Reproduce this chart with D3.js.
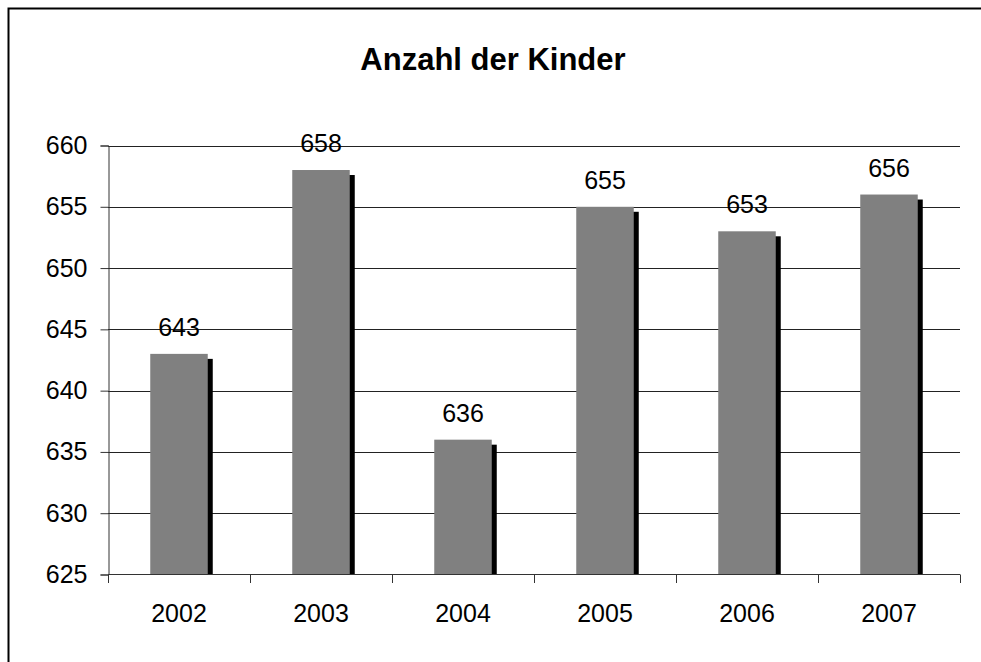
<!DOCTYPE html>
<html>
<head>
<meta charset="utf-8">
<script src="https://cdn.jsdelivr.net/npm/d3@7"></script>
<style>
  body { margin: 0; background: #fff; overflow: hidden; }
  svg { display: block; }
  text { font-family: "Liberation Sans", Arial, sans-serif; }
</style>
</head>
<body>
<script>
var w = 981;
var h = 662;

var years = ["2002", "2003", "2004", "2005", "2006", "2007"];
var kinder = [643, 658, 636, 655, 653, 656];
var yTicks = [625, 630, 635, 640, 645, 650, 655, 660];

var svg = d3.select("body").append("svg").attr("width", w).attr("height", h);

// outer frame: only left and top edges are in the picture
svg.append("path")
  .attr("d", "M8.5," + h + "V8.5H" + w)
  .attr("fill", "none")
  .attr("stroke", "#000")
  .attr("stroke-width", 2);

var x = d3.scaleBand().domain(years).range([108, 960]).paddingInner(0.595).paddingOuter(0.2975);
var y = d3.scaleLinear().domain([625, 660]).range([574.5, 145.5]);

// title
svg.append("text")
  .attr("x", 493)
  .attr("y", 70)
  .attr("text-anchor", "middle")
  .attr("font-size", "31px")
  .attr("font-weight", "bold")
  .text("Anzahl der Kinder");

// gridlines
svg.selectAll("line.grid")
  .data(yTicks.slice(1))
  .enter()
  .append("line")
  .attr("class", "grid")
  .attr("x1", 108)
  .attr("x2", 960)
  .attr("y1", function (d) { return Math.round(y(d)) + 0.5; })
  .attr("y2", function (d) { return Math.round(y(d)) + 0.5; })
  .attr("stroke", "#222")
  .attr("stroke-width", 1);

// bar shadows
svg.selectAll("rect.shadow")
  .data(kinder)
  .enter()
  .append("rect")
  .attr("class", "shadow")
  .attr("x", function (d, i) { return x(years[i]) + 5; })
  .attr("y", function (d) { return y(d) + 5; })
  .attr("width", x.bandwidth())
  .attr("height", function (d) { return y(625) - y(d) - 5; })
  .attr("fill", "#000");

// bars
svg.selectAll("rect.bar")
  .data(kinder)
  .enter()
  .append("rect")
  .attr("class", "bar")
  .attr("x", function (d, i) { return x(years[i]); })
  .attr("y", function (d) { return y(d); })
  .attr("width", x.bandwidth())
  .attr("height", function (d) { return y(625) - y(d); })
  .attr("fill", "#808080");

// value labels
svg.selectAll("text.val")
  .data(kinder)
  .enter()
  .append("text")
  .attr("class", "val")
  .attr("x", function (d, i) { return x(years[i]) + x.bandwidth() / 2; })
  .attr("y", function (d) { return y(d) - 18; })
  .attr("text-anchor", "middle")
  .attr("font-size", "25px")
  .attr("fill", "#000")
  .text(function (d) { return d; });

// y axis
var yAxis = d3.axisLeft(y).tickValues(yTicks).tickSize(8).tickPadding(13);
var gy = svg.append("g").attr("transform", "translate(108.5,0)").call(yAxis);
gy.select(".domain").attr("stroke", "#333");
gy.selectAll(".tick line").attr("stroke", "#333");
gy.selectAll("text").attr("font-size", "25px").attr("fill", "#000")
  .attr("font-family", "Liberation Sans, Arial, sans-serif");

// x axis with ticks between categories
var xEdges = d3.scaleLinear().domain([0, 6]).range([108, 960]);
svg.append("line")
  .attr("x1", 108).attr("x2", 960)
  .attr("y1", 574.5).attr("y2", 574.5)
  .attr("stroke", "#333");
svg.selectAll("line.xtick")
  .data(d3.range(7))
  .enter()
  .append("line")
  .attr("class", "xtick")
  .attr("x1", function (d) { return Math.round(xEdges(d)) + 0.5; })
  .attr("x2", function (d) { return Math.round(xEdges(d)) + 0.5; })
  .attr("y1", 574.5)
  .attr("y2", 583)
  .attr("stroke", "#333");
svg.selectAll("text.year")
  .data(years)
  .enter()
  .append("text")
  .attr("class", "year")
  .attr("x", function (d) { return x(d) + x.bandwidth() / 2; })
  .attr("y", 621.5)
  .attr("text-anchor", "middle")
  .attr("font-size", "25px")
  .text(function (d) { return d; });
</script>
</body>
</html>
